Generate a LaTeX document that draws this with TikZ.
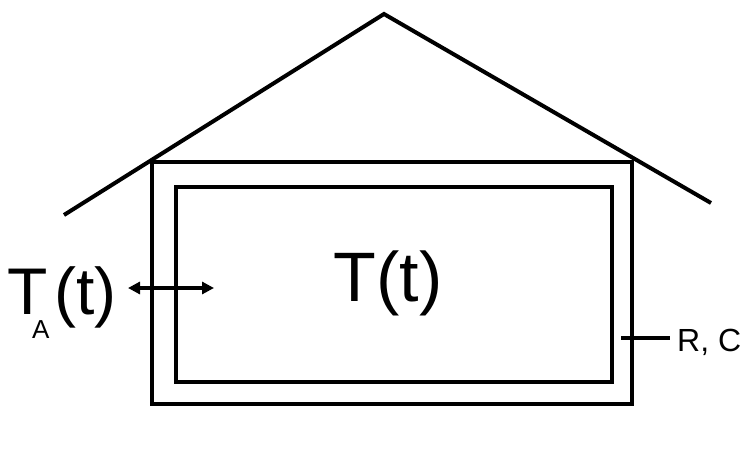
\documentclass[tikz,border=0pt]{standalone}
\usepackage{fontspec}
\setmainfont{Liberation Sans}
\usetikzlibrary{arrows.meta}
\begin{document}
\begin{tikzpicture}[x=1pt,y=-1pt,
  wall/.style={line width=4pt},
  big/.style={font=\fontsize{70}{70}\selectfont, inner sep=0pt},
  mid/.style={font=\fontsize{66}{66}\selectfont, inner sep=0pt},
  sub/.style={font=\fontsize{26}{26}\selectfont, inner sep=0pt},
  lbl/.style={font=\fontsize{32}{32}\selectfont, inner sep=0pt},
  flow/.style={line width=3.5pt, {Triangle[length=12pt,width=12pt]}-{Triangle[length=12pt,width=12pt]}}]
\useasboundingbox (0,0) rectangle (745,450);
% roof
\coordinate (roofL) at (64,215);
\coordinate (roofTop) at (384,14);
\coordinate (roofR) at (711,203);
\draw[wall, line join=miter] (roofL) -- (roofTop) -- (roofR);
% walls
\draw[wall] (152,162) rectangle (632,404);
\draw[wall] (176,187) rectangle (612,382);
% labels
\node[big, anchor=base] (Tin) at (388,301) {T(t)};
\node[mid, anchor=base west] (TA) at (7,314) {T};
\node[sub, anchor=base west] (TAsub) at (32,338) {A};
\node[mid, anchor=base west] (TAt) at (54,314) {(t)};
% exchange arrow
\coordinate (arL) at (128,288);
\coordinate (arR) at (214,288);
\draw[flow] (arL) -- (arR);
% R, C
\node[lbl, anchor=base west] (RC) at (677,351) {R, C};
\coordinate (rcS) at (621,338);
\coordinate (rcE) at (670,338);
\draw[line width=3.5pt] (rcS) -- (rcE);
\end{tikzpicture}
\end{document}
